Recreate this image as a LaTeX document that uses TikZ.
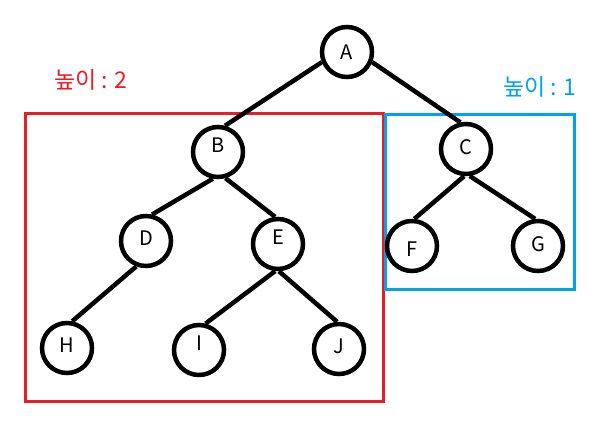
\documentclass[tikz,border=0pt]{standalone}
\usepackage{fontspec}
\setmainfont{Noto Sans CJK KR}
\usetikzlibrary{positioning}

\definecolor{boxred}{RGB}{237,28,36}
\definecolor{boxblue}{RGB}{0,162,232}

\begin{document}
\begin{tikzpicture}[
  x=1pt,
  y=-1pt,
  vertex/.style={
    draw,
    circle,
    line width=4.5pt,
    minimum size=50pt,
    inner sep=0pt,
    fill=white,
    font=\fontsize{20}{22}\selectfont
  },
  textdrop/.style={text depth=#1},
  edge/.style={line width=4.5pt},
  redbox/.style={draw=boxred, line width=3pt},
  bluebox/.style={draw=boxblue, line width=3pt},
  heightlabel/.style={font=\fontsize{23}{25}\selectfont, inner sep=0pt}
]
\useasboundingbox (0,0) rectangle (614,424);

% Height boxes
\draw[redbox] (25,113) rectangle (383,401);
\draw[bluebox] (385,114) rectangle (574,289);

\node[heightlabel, text=boxred] (leftHeight) at (91,80) {높이 : 2};
\node[heightlabel, text=boxblue] (rightHeight) at (540,87) {높이 : 1};

% Tree nodes
\node[vertex] (A) at (347,52) {A};
\node[vertex, textdrop=14pt] (B) at (218,152) {B};
\node[vertex, textdrop=4pt] (C) at (466,149) {C};
\node[vertex, textdrop=5pt] (D) at (146,241) {D};
\node[vertex, textdrop=14pt] (E) at (278,244) {E};
\node[vertex, text height=21pt] (F) at (412,246) {F};
\node[vertex, textdrop=4pt] (G) at (538,246) {G};
\node[vertex, textdrop=6pt] (H) at (67,348) {H};
\node[vertex, textdrop=14pt] (I) at (199,350) {I};
\node[vertex, textdrop=6pt] (J) at (339,349) {J};

% Edges
\draw[edge] (A.202) -- (B.75);
\draw[edge] (A.338) -- (C.102);
\draw[edge] (B.259) -- (D.77);
\draw[edge] (B.286) -- (E.96);
\draw[edge] (C.266) -- (F.85);
\draw[edge] (C.278) -- (G.96);
\draw[edge] (D.249) -- (H.79);
\draw[edge] (E.264) -- (I.76);
\draw[edge] (E.272) -- (J.94);

\end{tikzpicture}
\end{document}
